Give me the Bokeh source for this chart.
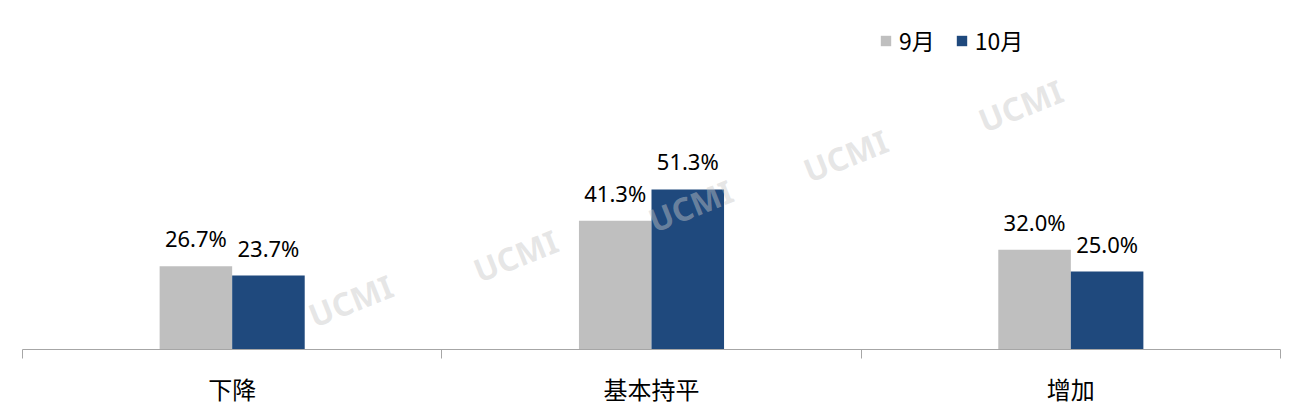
from bokeh.plotting import figure
from bokeh.models import Range1d, FixedTicker, Legend, LegendItem, Label, ColumnDataSource
from bokeh.core.properties import value
from bokeh.embed import file_html
from bokeh.resources import INLINE

categories = ["下降", "基本持平", "增加"]
sep_values = [26.7, 41.3, 32.0]
oct_values = [23.7, 51.3, 25.0]
series_names = ["9月", "10月"]

GRAY = "#BFBFBF"
BLUE = "#1F497D"
NUM_FONT = "Noto Sans"
CJK_FONT = "Noto Sans CJK SC"

p = figure(width=1296, height=408, output_backend="svg", toolbar_location=None,
           x_range=Range1d(0, 3), y_range=Range1d(0, 349 / 3.12),
           min_border_left=22, min_border_right=16, min_border_top=0, min_border_bottom=0)
p.outline_line_color = None
p.grid.visible = False
p.yaxis.visible = False
p.background_fill_color = "white"

centers = [i + 0.5 for i in range(len(categories))]
off = 0.0865
bw = 0.173

src_sep = ColumnDataSource(dict(x=[c - off for c in centers], top=sep_values,
                                lab=[f"{v:.1f}%" for v in sep_values]))
src_oct = ColumnDataSource(dict(x=[c + off for c in centers], top=oct_values,
                                lab=[f"{v:.1f}%" for v in oct_values]))

r1 = p.vbar(x="x", top="top", width=bw, source=src_sep, fill_color=GRAY, line_color=None)
r2 = p.vbar(x="x", top="top", width=bw, source=src_oct, fill_color=BLUE, line_color=None)

for src in (src_sep, src_oct):
    p.text(x="x", y="top", text="lab", source=src, text_align="center",
           text_baseline="alphabetic", y_offset=-28, text_font=value(NUM_FONT),
           text_font_size="22px", text_color="#000000")

ax = p.xaxis[0]
ax.ticker = FixedTicker(ticks=centers, minor_ticks=[0, 1, 2, 3])
ax.major_label_overrides = {c: cat for c, cat in zip(centers, categories)}
ax.major_tick_line_color = None
ax.major_tick_out = 0
ax.major_tick_in = 0
ax.minor_tick_out = 9
ax.minor_tick_in = 0
ax.minor_tick_line_color = "#A6A6A6"
ax.axis_line_color = "#A6A6A6"
ax.axis_line_width = 1
ax.major_label_standoff = 12
ax.major_label_text_font = CJK_FONT
ax.major_label_text_font_size = "24px"
ax.major_label_text_color = "#000000"

# watermarks
wm_px = [(350, 300), (515, 255), (690, 205), (845, 155), (1020, 105)]
for (px, py) in wm_px:
    p.add_layout(Label(x=(px - 22) / 419.33, y=(349 - py) / 3.12, text="UCMI",
                       text_align="center", text_baseline="middle", angle=0.38,
                       text_font=NUM_FONT, text_font_style="bold", text_font_size="32px",
                       text_color="#C8C8C8", text_alpha=0.45))

legend = Legend(items=[LegendItem(label=series_names[0], renderers=[r1]),
                       LegendItem(label=series_names[1], renderers=[r2])],
                orientation="horizontal", location=(857, 292))
legend.border_line_color = None
legend.background_fill_alpha = 0
legend.padding = 0
legend.margin = 0
legend.glyph_width = 13
legend.glyph_height = 13
legend.label_standoff = 7
legend.spacing = 20
legend.label_text_font = CJK_FONT
legend.label_text_font_size = "23px"
legend.label_text_color = "#000000"
p.add_layout(legend, "center")

open("out.html", "w").write(file_html(p, INLINE))
